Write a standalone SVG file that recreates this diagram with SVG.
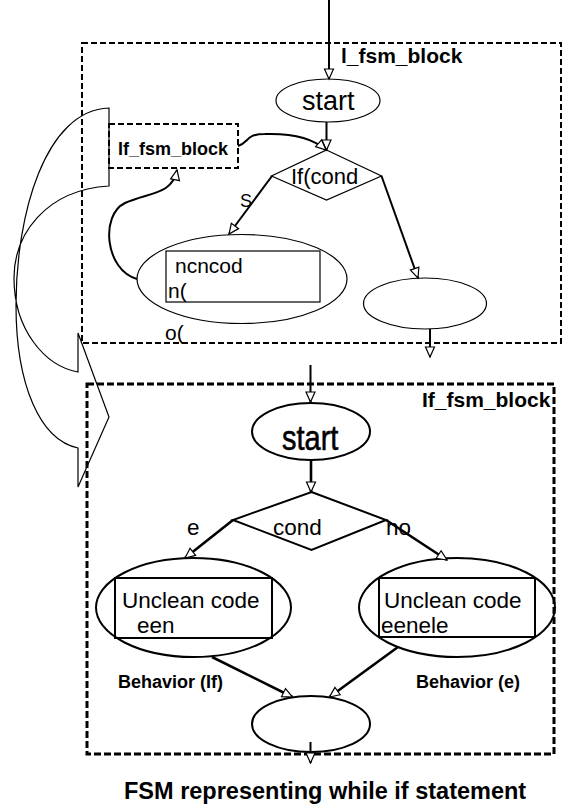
<svg xmlns="http://www.w3.org/2000/svg" width="563" height="812" viewBox="0 0 563 812">
<style>
  text { font-family: "Liberation Sans", Arial, sans-serif; fill: #000; }
  .b { font-weight: bold; }
  .thin { fill: none; stroke: #000; stroke-width: 1.2; }
  .med { fill: none; stroke: #000; stroke-width: 2; }
  .dash1 { fill: none; stroke: #000; stroke-width: 2; stroke-dasharray: 6 3; }
  .dash2 { fill: none; stroke: #000; stroke-width: 3; stroke-dasharray: 7 3; }
  .ln { fill: none; stroke: #000; stroke-width: 2; marker-end: url(#arr); }
  .ln3 { fill: none; stroke: #000; stroke-width: 2.6; marker-end: url(#arr); }
</style>
<defs>
  <marker id="arr" markerUnits="userSpaceOnUse" markerWidth="12" markerHeight="10" refX="10" refY="4.5" orient="auto" overflow="visible">
    <path d="M0,0 L10,4.5 L0,9 Z" fill="#fff" stroke="#000" stroke-width="1.2"/>
  </marker>
</defs>

<!-- big curved arrow (drawn directly) -->
<g id="curved-arrow">
  <path class="thin" d="M109,108 C 45,110 16,215 16,305 C 16,385 40,440 78,448 L78,487 L109,417 L78,333 L78,372 C 45,366 14,330 14,278 C 14,235 45,190 109,186 Z"/>
</g>

<!-- outer blocks -->
<g id="l_fsm_block_outer">
  <rect class="dash1" x="82" y="43" width="479" height="300"/>
  <text class="b" x="341" y="63" font-size="21">l_fsm_block</text>
</g>
<g id="if_fsm_block_outer">
  <rect class="dash2" x="87" y="384" width="467" height="370"/>
  <text class="b" x="422" y="407" font-size="21">If_fsm_block</text>
</g>

<!-- upper nodes -->
<g id="start1">
  <ellipse class="thin" cx="328" cy="100.5" rx="52" ry="21.5"/>
  <text x="302" y="110" font-size="27">start</text>
</g>
<g id="ifcond1">
  <polygon class="thin" points="326.5,150 381.5,176 326.5,200 271.5,176"/>
  <text x="291" y="184" font-size="22">If(cond</text>
</g>
<g id="ref_if_fsm_block">
  <rect class="dash1" x="109" y="124" width="129" height="44"/>
  <text class="b" x="118" y="155" font-size="18">If_fsm_block</text>
</g>
<g id="ncncod">
  <ellipse class="thin" cx="242" cy="279" rx="105" ry="44.5"/>
  <rect class="thin" x="166" y="251" width="154" height="51"/>
  <text x="175" y="273" font-size="21">ncncod</text>
  <text x="168" y="298" font-size="21">n(</text>
</g>
<g id="end1">
  <ellipse class="thin" cx="425" cy="303.5" rx="61.5" ry="25.5"/>
</g>

<!-- lower nodes -->
<g id="start2">
  <ellipse class="med" cx="311" cy="431.5" rx="59" ry="28.5"/>
  <text x="282" y="450" font-size="29" stroke="#000" stroke-width="0.5" transform="translate(282,450) scale(1,1.18) translate(-282,-450)">start</text>
</g>
<g id="cond2">
  <polygon class="med" points="311.5,492 386,520 311.5,550 233,520"/>
  <text x="273" y="535" font-size="22.5">cond</text>
</g>
<g id="then2">
  <ellipse class="med" cx="193.5" cy="607.5" rx="97.5" ry="49.5"/>
  <rect class="med" x="115" y="578" width="157" height="60"/>
  <text x="122" y="608" font-size="22.5">Unclean code</text>
  <text x="137" y="633" font-size="22.5">een</text>
</g>
<g id="else2">
  <ellipse class="med" cx="457" cy="607.5" rx="98" ry="49.5"/>
  <rect class="med" x="379" y="578" width="156" height="59"/>
  <text x="384" y="608" font-size="22.5">Unclean code</text>
  <text x="381" y="633" font-size="22.5">eenele</text>
</g>
<g id="end2">
  <ellipse class="med" cx="311" cy="724" rx="59" ry="28"/>
</g>

<!-- connectors -->
<g id="connectors">
  <line class="ln" x1="329" y1="0" x2="329" y2="79"/>
  <line class="ln" x1="326.5" y1="122" x2="326.5" y2="150"/>
  <path class="ln" d="M238,146 C 250,142 245,134 265,134 C 295,133 315,140 326,150"/>
  <line class="ln" x1="272" y1="176" x2="229" y2="234"/>
  <line class="ln" x1="381.5" y1="176" x2="418" y2="278"/>
  <path class="ln" d="M137,279 C 105,270 100,215 125,203 C 150,192 172,195 177,170"/>
  <line class="ln" x1="430" y1="329" x2="430" y2="357"/>
  <line class="ln" x1="310.5" y1="365" x2="310.5" y2="402"/>
  <line class="ln3" x1="311" y1="460" x2="311" y2="492"/>
  <line class="ln3" x1="233" y1="520" x2="185" y2="558"/>
  <line class="ln3" x1="386" y1="520" x2="447" y2="560"/>
  <line class="ln3" x1="212" y1="657" x2="292.5" y2="697"/>
  <line class="ln3" x1="398" y1="647" x2="329.5" y2="697"/>
  <line class="ln" x1="310.5" y1="742" x2="310.5" y2="763"/>
</g>

<!-- edge labels and free texts -->
<g id="labels">
  <text x="240" y="207" font-size="18">S</text>
  <text x="165" y="340" font-size="21">o(</text>
  <text x="187" y="535" font-size="22.5">e</text>
  <text x="386" y="535" font-size="22.5">no</text>
  <text class="b" x="118" y="688" font-size="18">Behavior (If)</text>
  <text class="b" x="416" y="688" font-size="18">Behavior (e)</text>
  <text class="b" x="124" y="799" font-size="23.5">FSM representing while if statement</text>
</g>
</svg>
